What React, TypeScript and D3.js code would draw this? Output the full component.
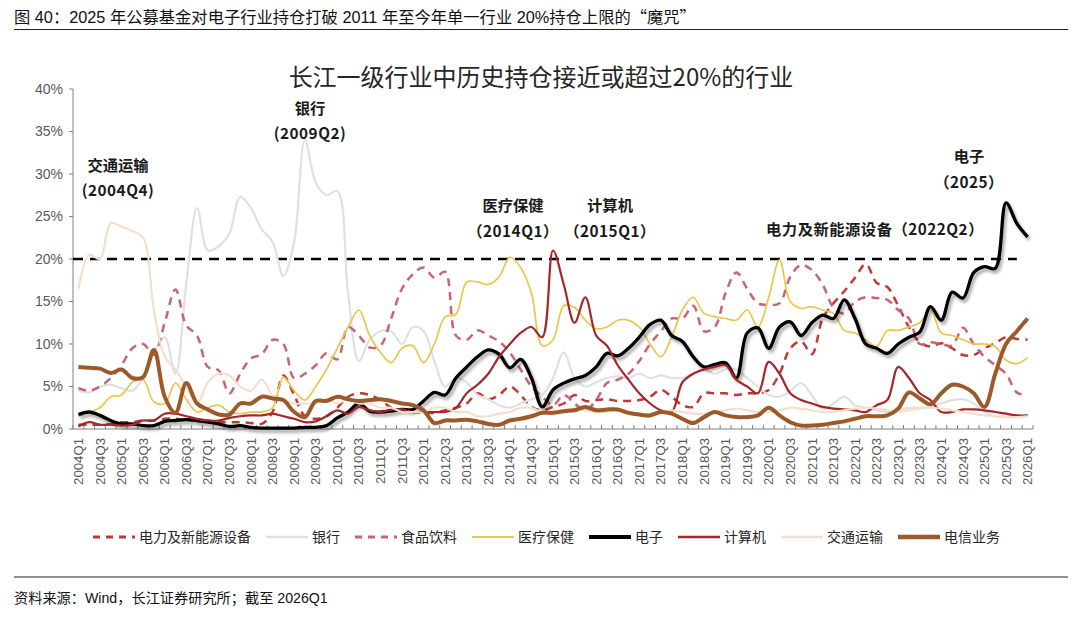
import React from "react";
import * as d3 from "d3";

const W = 1080;
const H = 627;

// categories: 2004Q1 .. 2026Q1
const quarters: string[] = [];
for (let yr = 2004; yr <= 2026; yr++) {
  for (let q = 1; q <= 4; q++) {
    if (quarters.length < 89) quarters.push(`${yr}Q${q}`);
  }
}

const yTicks = [0, 5, 10, 15, 20, 25, 30, 35, 40];

// 电力及新能源设备
const power = [
  0.5, 0.5, 0.5, 0.6, 0.8, 0.8, 1.0, 1.0, 1.2, 1.2,
  1.0, 1.0, 1.0, 0.8, 0.8, 0.8, 0.7, 0.6, 2.0, 6.3,
  4.0, 1.5, 1.2, 1.5, 2.5, 3.8, 4.2, 4.0, 3.4, 2.5,
  2.2, 2.0, 1.9, 1.9, 2.2, 2.5, 3.0, 4.2, 3.5, 4.0,
  5.0, 4.0, 2.6, 2.2, 2.6, 3.0, 4.0, 3.3, 3.4, 3.5,
  3.3, 3.3, 3.4, 3.8, 4.6, 3.8, 2.8, 2.6, 4.2, 4.2,
  4.2, 4.0, 4.2, 4.2, 4.6, 6.5, 9.5, 10.3, 8.8, 13.0,
  14.8, 16.2, 17.8, 19.4, 17.2, 16.7, 14.5, 12.0, 10.2, 9.7,
  10.1, 9.5, 8.7, 8.7, 9.5, 10.1, 10.8, 10.6, 10.5,
];

// 银行
const bank = [
  4.5, 4.3, 5.0, 5.2, 4.8, 4.5, 6.0, 9.0, 10.8, 6.5,
  17.0, 26.0, 21.0, 21.5, 23.0, 27.3, 26.0, 23.5, 22.0, 18.0,
  22.0, 34.0, 29.0, 27.5, 28.0, 16.0, 8.0, 10.5, 11.5, 11.5,
  10.0, 12.0, 11.5, 8.0, 5.0, 6.0, 5.5, 4.0, 3.5, 2.8,
  2.5, 3.0, 3.5, 4.0, 6.0, 9.0, 6.0, 5.0, 5.5, 6.0,
  6.2, 6.0, 6.5, 6.0, 6.3, 6.0, 6.0, 6.5, 7.0, 6.5,
  7.0, 7.0, 6.0, 5.0, 4.0, 3.8, 4.5, 5.4, 4.0, 2.3,
  3.0, 3.8, 2.8, 2.5, 2.2, 2.0, 2.2, 2.5, 2.5, 2.6,
  3.0, 3.4, 3.5, 3.0, 2.0, 1.5, 1.5, 1.5, 1.5,
];

// 食品饮料
const food = [
  4.8, 4.5, 5.0, 6.0, 7.5, 9.5, 10.0, 8.7, 12.5, 16.4,
  12.2, 11.0, 7.3, 6.9, 4.2, 6.5, 8.3, 8.8, 10.5, 10.0,
  6.0, 6.5, 7.5, 8.9, 8.2, 12.0, 11.0, 9.6, 9.8, 13.0,
  16.5, 18.2, 19.0, 17.8, 18.5, 11.0, 10.5, 11.6, 11.0, 10.3,
  9.0, 7.0, 5.0, 3.8, 2.8, 4.0, 3.0, 2.2, 3.4, 5.4,
  5.8, 6.5, 8.0, 10.0, 11.5, 13.0, 13.0, 14.5, 11.5, 12.0,
  16.0, 18.4, 16.5, 14.8, 14.6, 14.8, 17.9, 19.3, 18.7, 17.0,
  14.3, 13.6, 15.0, 15.5, 15.4, 15.2, 14.0, 13.0, 10.0, 10.2,
  10.0, 9.8, 11.9, 10.0, 8.5, 7.5, 6.5, 4.3, 4.0,
];

// 医疗保健
const health = [
  1.5, 2.0, 2.5, 3.8, 4.0, 5.5, 5.8, 3.2, 3.0, 5.4,
  3.5, 2.0, 2.5, 2.8, 2.0, 1.8, 2.0, 2.0, 2.5, 6.1,
  4.5, 3.4, 5.0, 7.0, 9.5, 12.0, 14.0, 11.0, 9.0, 7.8,
  9.5, 9.8, 7.8, 10.0, 13.2, 13.5, 17.3, 17.3, 17.0, 17.9,
  20.2, 19.0, 16.0, 9.8, 10.5, 14.5, 14.3, 12.8, 11.8, 12.0,
  12.8, 12.8, 12.0, 10.0, 8.5, 10.8, 14.0, 15.5, 13.6, 13.2,
  13.0, 12.8, 14.0, 12.0, 15.5, 19.9, 15.0, 14.2, 14.4, 14.0,
  13.6, 11.6, 11.3, 10.5, 9.7, 11.6, 11.6, 12.0, 12.5, 14.0,
  11.3, 11.0, 10.5, 10.0, 10.0, 9.7, 8.1, 7.7, 8.4,
];

// 电子
const electronics = [
  1.7, 2.0, 1.6, 1.0, 0.6, 0.6, 0.4, 0.4, 0.9, 1.0,
  1.1, 1.0, 0.8, 0.6, 0.3, 0.4, 0.2, 0.1, 0.1, 0.1,
  0.1, 0.2, 0.2, 0.4, 1.3, 2.0, 3.0, 2.1, 2.0, 2.1,
  2.3, 2.3, 3.3, 4.3, 4.0, 6.0, 7.3, 8.5, 9.3, 8.8,
  7.2, 8.2, 6.0, 2.6, 4.6, 5.4, 5.9, 6.3, 7.3, 8.9,
  8.6, 9.5, 10.8, 12.3, 12.8, 11.0, 10.3, 8.5, 7.3, 7.6,
  7.8, 6.0, 11.3, 11.9, 9.5, 12.0, 12.6, 11.0, 12.5, 13.4,
  13.0, 15.2, 13.0, 10.0, 9.5, 8.9, 10.0, 10.8, 11.4, 14.4,
  12.8, 16.1, 15.4, 18.4, 19.1, 18.9, 26.6, 24.2, 22.6,
];

// 计算机
const computer = [
  0.3, 0.8, 0.5, 0.5, 0.4, 0.5, 1.0, 1.0, 1.8, 1.8,
  1.5, 1.2, 1.0, 1.0, 1.3, 1.5, 1.6, 1.6, 1.8, 1.5,
  1.2, 0.8, 0.9, 1.5, 2.2, 1.8, 2.6, 2.2, 2.0, 2.3,
  2.3, 2.0, 2.0, 2.0, 2.0, 2.5, 4.2, 5.2, 6.5, 8.5,
  10.0, 11.3, 12.0, 10.8, 21.0, 17.0, 12.5, 15.5, 11.0, 9.8,
  7.5, 5.8, 4.2, 3.0, 2.2, 2.0, 5.5, 6.5, 7.0, 7.3,
  7.5, 5.8, 5.0, 4.2, 7.9, 6.5, 4.2, 3.4, 3.0, 2.6,
  2.4, 2.3, 2.2, 2.0, 2.8, 3.4, 7.3, 6.0, 4.2, 3.4,
  2.0, 2.0, 2.3, 2.3, 2.2, 2.0, 1.8, 1.6, 1.6,
];

// 交通运输
const transport = [
  16.5, 20.5, 20.0, 24.2, 23.8, 23.3, 22.5, 14.0, 8.5, 7.0,
  5.0, 3.0, 5.5, 6.5, 6.3, 5.0, 4.5, 5.8, 4.0, 3.5,
  3.0, 3.0, 3.0, 3.5, 3.0, 3.5, 3.0, 3.0, 2.5, 2.5,
  2.0, 2.0, 2.0, 2.5, 2.5, 2.0, 2.0, 1.5, 1.5, 1.8,
  2.0, 2.5, 2.5, 2.0, 2.0, 2.2, 2.4, 2.2, 2.0, 2.0,
  2.2, 2.0, 1.8, 1.8, 2.0, 2.2, 2.0, 1.8, 1.8, 2.0,
  2.2, 2.4, 2.2, 2.0, 2.0, 2.2, 2.5, 2.4, 2.2, 2.0,
  2.0, 2.2, 2.4, 2.5, 2.4, 2.2, 2.0, 2.2, 2.4, 2.5,
  2.4, 2.2, 2.0, 1.8, 1.6, 1.5, 1.4, 1.4, 1.5,
];

// 电信业务
const telecom = [
  7.3, 7.2, 7.1, 6.6, 7.0, 6.0, 6.1, 9.3, 3.8, 1.9,
  5.4, 3.0, 2.3, 1.7, 1.7, 3.0, 3.0, 3.8, 3.6, 3.4,
  2.0, 1.4, 3.3, 3.3, 3.8, 3.5, 3.3, 3.4, 3.5, 3.3,
  3.0, 2.8, 2.2, 0.7, 1.0, 1.0, 1.1, 0.9, 0.6, 0.5,
  1.0, 1.2, 1.5, 1.9, 1.9, 2.1, 2.2, 2.6, 2.2, 2.3,
  2.3, 1.9, 1.7, 1.6, 2.0, 1.8, 1.2, 0.7, 1.4, 2.0,
  1.6, 1.4, 1.4, 1.6, 2.5, 1.6, 0.8, 0.4, 0.4, 0.5,
  0.7, 0.9, 1.2, 1.5, 1.5, 1.6, 2.4, 4.3, 3.6, 2.9,
  4.2, 5.2, 5.0, 4.2, 2.6, 6.5, 10.0, 11.5, 13.0,
];

const threshold = 20;

type Series = {
  name: string;
  values: number[];
  color: string;
  width: number;
  dash?: string;
  shadow?: boolean;
};

const series: Series[] = [
  { name: "电力及新能源设备", values: power, color: "#BE3A34", width: 2.5, dash: "8,6" },
  { name: "银行", values: bank, color: "#E0E0E0", width: 2.2 },
  { name: "食品饮料", values: food, color: "#C96478", width: 2.5, dash: "8,6" },
  { name: "医疗保健", values: health, color: "#EDC54A", width: 1.7 },
  { name: "电子", values: electronics, color: "#000000", width: 3.3, shadow: true },
  { name: "计算机", values: computer, color: "#A5262B", width: 2.2 },
  { name: "交通运输", values: transport, color: "#F3DFCB", width: 2.2 },
  { name: "电信业务", values: telecom, color: "#9C5A2A", width: 4 },
];

const plot = { left: 73, right: 1033, top: 89, bottom: 429 };
const FONT_LAT = "'Liberation Sans', Arial, 'Noto Sans CJK SC', sans-serif";
const FONT_CJK = "'Noto Sans CJK SC', 'Liberation Sans', sans-serif";

export default function App() {
  const x = d3.scaleBand<string>().domain(quarters).range([plot.left, plot.right]).padding(0);
  const xc = (i: number) => (x(quarters[i]) as number) + x.bandwidth() / 2;
  const y = d3.scaleLinear().domain([0, 40]).range([plot.bottom, plot.top]);

  const line = d3
    .line<number>()
    .x((_, i) => xc(i))
    .y((d) => y(d))
    .curve(d3.curveCatmullRom.alpha(0.5));

  const boundaries = quarters.map((q) => x(q) as number).concat([plot.right]);

  // legend layout
  const legendFont = 14;
  let lx = 93;
  const legendItems = series.map((s) => {
    const item = { s, x1: lx, x2: lx + 42, tx: lx + 46 };
    lx = item.tx + s.name.length * legendFont + 15;
    return item;
  });

  const annotations = [
    { lines: ["银行", "(2009Q2)"], x: 310, y: [108, 133] },
    { lines: ["交通运输", "(2004Q4)"], x: 118, y: [165, 190] },
    { lines: ["医疗保健", "（2014Q1）"], x: 513, y: [205, 231] },
    { lines: ["计算机", "（2015Q1）"], x: 610, y: [205, 231] },
    { lines: ["电力及新能源设备（2022Q2）"], x: 875, y: [229] },
    { lines: ["电子", "（2025）"], x: 969, y: [156, 182] },
  ];

  return (
    <svg
      width={W}
      height={H}
      viewBox={`0 0 ${W} ${H}`}
      style={{ position: "absolute", left: 0, top: 0, background: "#fff" }}
    >
      <defs>
        <filter id="lineShadow" x="-5%" y="-10%" width="110%" height="130%">
          <feDropShadow dx="2" dy="3" stdDeviation="1.6" floodColor="#000" floodOpacity="0.35" />
        </filter>
      </defs>
      <rect x={0} y={0} width={W} height={H} fill="#fff" />

      {/* header */}
      <text x={14} y={23} fontFamily={FONT_LAT} fontSize={16.3} fill="#111">
        图 40：2025 年公募基金对电子行业持仓打破 2011 年至今年单一行业 20%持仓上限的
        <tspan fontFamily={FONT_CJK}>“魔咒”</tspan>
      </text>
      <line x1={14} x2={1068} y1={29.5} y2={29.5} stroke="#222" strokeWidth={1} />

      {/* chart title */}
      <text x={541} y={86} textAnchor="middle" fontFamily={FONT_CJK} fontSize={24} fill="#262626">
        长江一级行业中历史持仓接近或超过20%的行业
      </text>

      {/* y axis */}
      <line x1={plot.left} x2={plot.left} y1={plot.top} y2={plot.bottom} stroke="#808080" strokeWidth={1} />
      {yTicks.map((t) => (
        <g key={t}>
          <line x1={plot.left - 4} x2={plot.left} y1={y(t)} y2={y(t)} stroke="#808080" />
          <text
            x={63}
            y={y(t)}
            dy="0.35em"
            textAnchor="end"
            fontFamily={FONT_LAT}
            fontSize={14}
            fill="#595959"
          >
            {t}%
          </text>
        </g>
      ))}

      {/* x axis */}
      <line x1={plot.left} x2={plot.right} y1={plot.bottom} y2={plot.bottom} stroke="#808080" strokeWidth={1} />
      {boundaries.map((bx, i) => (
        <line key={i} x1={bx} x2={bx} y1={plot.bottom} y2={plot.bottom - 4} stroke="#808080" />
      ))}
      {quarters.map((q, i) =>
        i % 2 === 0 ? (
          <text
            key={q}
            transform={`translate(${xc(i)},${plot.bottom + 9}) rotate(-90)`}
            textAnchor="end"
            dy="0.35em"
            fontFamily={FONT_LAT}
            fontSize={13.2}
            fill="#595959"
          >
            {q}
          </text>
        ) : null
      )}

      {/* 20% threshold */}
      <line
        x1={plot.left}
        x2={xc(87)}
        y1={y(threshold)}
        y2={y(threshold)}
        stroke="#000"
        strokeWidth={2.5}
        strokeDasharray="10,7"
      />

      {/* series */}
      {series.map((s) => (
        <path
          key={s.name}
          d={line(s.values) || ""}
          fill="none"
          stroke={s.color}
          strokeWidth={s.width}
          strokeDasharray={s.dash}
          strokeLinejoin="round"
          filter={s.shadow ? "url(#lineShadow)" : undefined}
        />
      ))}

      {/* annotations */}
      {annotations.map((a, k) =>
        a.lines.map((t, j) => (
          <text
            key={`${k}-${j}`}
            x={a.x}
            y={a.y[j] + 5.5}
            textAnchor="middle"
            fontFamily={FONT_CJK}
            fontWeight={700}
            fontSize={15.3}
            letterSpacing={j > 0 || a.lines.length === 1 ? 0.5 : 0}
            fill="#1a1a1a"
          >
            {t}
          </text>
        ))
      )}

      {/* legend */}
      {legendItems.map(({ s, x1, x2, tx }) => (
        <g key={s.name}>
          <line
            x1={x1}
            x2={x2}
            y1={537}
            y2={537}
            stroke={s.color}
            strokeWidth={s.name === "电信业务" ? 4.5 : s.width + 0.5}
            strokeDasharray={s.dash ? "7,6" : undefined}
          />
          <text x={tx} y={542} fontFamily={FONT_CJK} fontSize={legendFont} fill="#262626">
            {s.name}
          </text>
        </g>
      ))}

      {/* footer */}
      <line x1={14} x2={1068} y1={577} y2={577} stroke="#222" strokeWidth={1} />
      <text x={14} y={603} fontFamily={FONT_LAT} fontSize={14.2} fill="#111">
        资料来源：Wind，长江证券研究所；截至 2026Q1
      </text>
    </svg>
  );
}
